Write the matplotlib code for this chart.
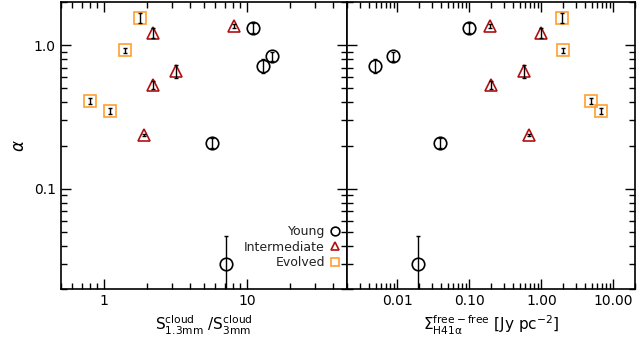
import numpy as np
import matplotlib
matplotlib.use("Agg")
import matplotlib.pyplot as plt
from matplotlib.ticker import FixedLocator, FixedFormatter, LogLocator, NullFormatter

# data
young_ratio = [11.0, 12.9, 14.9, 5.75, 7.2]
young_sigma = [0.10, 0.0049, 0.0088, 0.039, 0.0196]
young_alpha = [1.33, 0.718, 0.839, 0.21, 0.030]
young_err = [0.11, 0.08, 0.06, 0.017, 0.017]

inter_ratio = [8.2, 2.22, 3.2, 2.22, 1.92]
inter_sigma = [0.194, 1.0, 0.58, 0.2, 0.68]
inter_alpha = [1.36, 1.22, 0.66, 0.53, 0.237]
inter_err = [0.04, 0.10, 0.07, 0.035, 0.005]

evol_ratio = [1.8, 1.4, 0.80, 1.10]
evol_sigma = [1.95, 2.0, 4.84, 6.75]
evol_alpha = [1.55, 0.923, 0.408, 0.348]
evol_err = [0.13, 0.04, 0.02, 0.018]

groups = [
    ("Young", "o", "black", young_ratio, young_sigma, young_alpha, young_err),
    ("Intermediate", "^", "#b01010", inter_ratio, inter_sigma, inter_alpha, inter_err),
    ("Evolved", "s", "#ffa030", evol_ratio, evol_sigma, evol_alpha, evol_err),
]

plt.rcParams['font.family'] = 'DejaVu Sans'
plt.rcParams['font.size'] = 10

fig = plt.figure(figsize=(6.37, 3.47), dpi=100)
ax1 = fig.add_axes([0.0953, 0.167, 0.449, 0.827])
ax2 = fig.add_axes([0.5447, 0.167, 0.4523, 0.827])

for ax, xi in [(ax1, 3), (ax2, 4)]:
    for name, mk, col, rat, sig, al, er in groups:
        xs = rat if xi == 3 else sig
        ax.plot(xs, al, linestyle='none', marker=mk, markersize=9 if mk != 's' else 8.5,
                markerfacecolor='none', markeredgecolor=col, markeredgewidth=1.2,
                label=name, zorder=2)
        ax.errorbar(xs, al, yerr=er, fmt='none', ecolor='black', elinewidth=1.0,
                    capsize=1.5, capthick=1.0, zorder=3)
    ax.set_xscale('log')
    ax.set_yscale('log')
    ax.set_ylim(0.02, 2.0)
    ax.tick_params(which='both', direction='in', top=True, right=True, width=1.0)
    ax.tick_params(which='major', length=7)
    ax.tick_params(which='minor', length=4)
    for s in ax.spines.values():
        s.set_linewidth(1.2)
    ax.yaxis.set_major_locator(FixedLocator([0.1, 1.0]))
    ax.yaxis.set_minor_locator(LogLocator(base=10, subs=np.arange(2, 10)))
    ax.yaxis.set_minor_formatter(NullFormatter())

ax1.set_xlim(0.5, 50)
ax1.xaxis.set_major_locator(FixedLocator([1, 10]))
ax1.xaxis.set_major_formatter(FixedFormatter(["1", "10"]))
ax1.xaxis.set_minor_locator(LogLocator(base=10, subs=np.arange(2, 10)))
ax1.xaxis.set_minor_formatter(NullFormatter())
ax1.yaxis.set_major_formatter(FixedFormatter(["0.1", "1.0"]))
ax1.set_ylabel(r"$\alpha$", fontsize=12)
ax1.set_xlabel(r"S$^{\rm cloud}_{\rm 1.3mm}$ /S$^{\rm cloud}_{\rm 3mm}$", fontsize=11)

ax2.set_xlim(0.002, 20)
ax2.xaxis.set_major_locator(FixedLocator([0.01, 0.1, 1, 10]))
ax2.xaxis.set_major_formatter(FixedFormatter(["0.01", "0.10", "1.00", "10.00"]))
ax2.xaxis.set_minor_locator(LogLocator(base=10, subs=np.arange(2, 10)))
ax2.xaxis.set_minor_formatter(NullFormatter())
ax2.yaxis.set_major_formatter(NullFormatter())
ax2.set_xlabel(r"$\Sigma^{\rm free-free}_{\rm H41\alpha}$ [Jy pc$^{-2}$]", fontsize=11)

leg = ax1.legend(loc='lower right', frameon=False, markerfirst=False, handletextpad=0.3,
                 labelspacing=0.2, bbox_to_anchor=(1.02, 0.03), fontsize=9,
                 handlelength=1.0, markerscale=0.7)
for t in leg.get_texts():
    t.set_color('#222222')

fig.savefig("out.png", dpi=100)
